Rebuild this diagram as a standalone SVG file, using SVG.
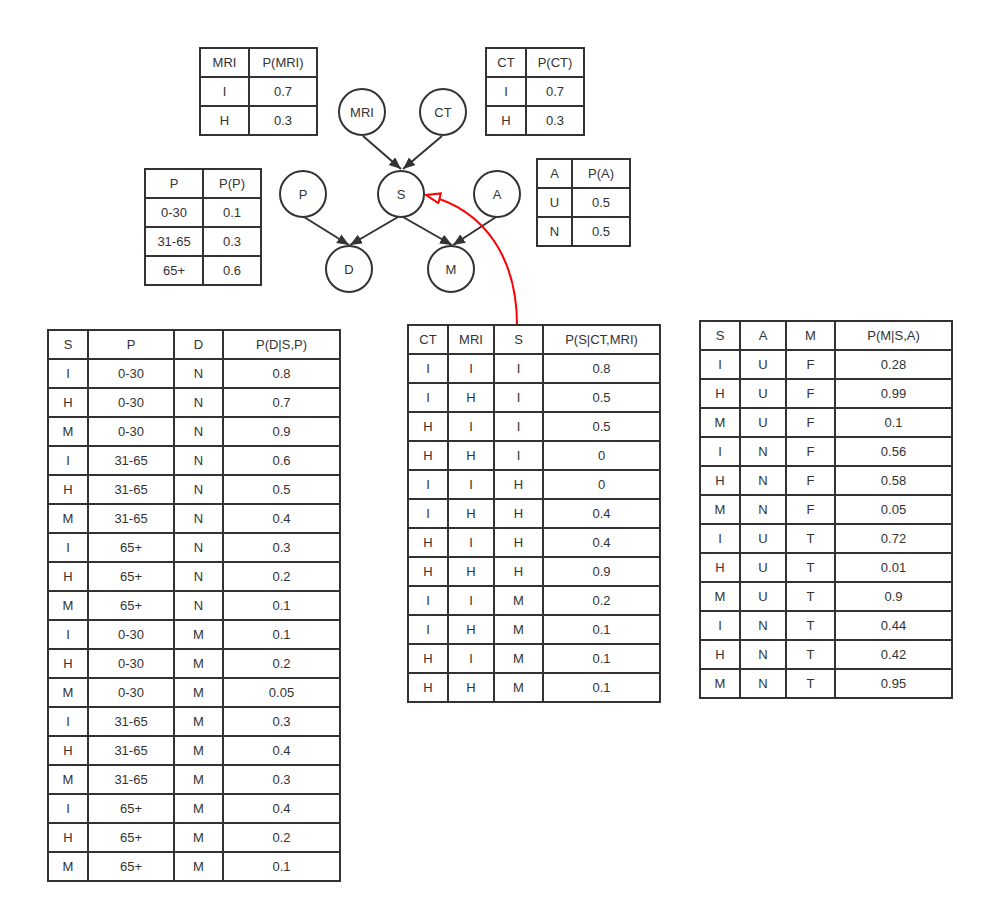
<svg xmlns="http://www.w3.org/2000/svg" width="984" height="913" viewBox="0 0 984 913">
<defs>
<style>
text{font-family:"Liberation Sans",Arial,sans-serif;font-size:13px;fill:#333;text-anchor:middle}
.t rect,.t line{stroke:#333;stroke-width:2;fill:none}
.t rect{fill:#fff}
.n circle{fill:#fff;stroke:#333;stroke-width:2}
.e{stroke:#333;stroke-width:2;fill:none}
</style>
<marker id="ah" markerUnits="userSpaceOnUse" markerWidth="14" markerHeight="12" refX="12" refY="5" orient="auto"><path d="M0,0 L12,5 L0,10 z" fill="#333"/></marker>
<marker id="rh" markerUnits="userSpaceOnUse" markerWidth="18" markerHeight="14" refX="15" refY="6" orient="auto"><path d="M1,1 L15,6 L1,11 z" fill="#fff" stroke="#f00" stroke-width="2"/></marker>
</defs>
<rect width="984" height="913" fill="#fff"/>

<g id="connectors">
<path class="e" d="M363,136 L401,169" marker-end="url(#ah)"/>
<path class="e" d="M442,136 L403,169" marker-end="url(#ah)"/>
<path class="e" d="M304,217 L349,245" marker-end="url(#ah)"/>
<path class="e" d="M398,217 L350,245" marker-end="url(#ah)"/>
<path class="e" d="M403,217 L452,245" marker-end="url(#ah)"/>
<path class="e" d="M496,217 L453,245" marker-end="url(#ah)"/>
<path d="M517,325 C517,262 488,210 426,195" stroke="#f00" stroke-width="2" fill="none" marker-end="url(#rh)"/>
</g>

<g id="node-MRI" class="n"><circle cx="362" cy="112" r="23"/><text x="362" y="116.5">MRI</text></g>
<g id="node-CT" class="n"><circle cx="443" cy="112" r="23"/><text x="443" y="116.5">CT</text></g>
<g id="node-P" class="n"><circle cx="303" cy="194" r="23"/><text x="303" y="198.5">P</text></g>
<g id="node-S" class="n"><circle cx="401" cy="194" r="23"/><text x="401" y="198.5">S</text></g>
<g id="node-A" class="n"><circle cx="497" cy="194" r="23"/><text x="497" y="198.5">A</text></g>
<g id="node-D" class="n"><circle cx="349" cy="269" r="23"/><text x="349" y="273.5">D</text></g>
<g id="node-M" class="n"><circle cx="451" cy="269" r="23"/><text x="451" y="273.5">M</text></g>

<g id="table-MRI" class="t" transform="translate(200,48)">
<rect width="117" height="87"/>
<line x1="49" y1="0" x2="49" y2="87"/><line x1="0" y1="29" x2="117" y2="29"/><line x1="0" y1="58" x2="117" y2="58"/>
<text x="24.5" y="19">MRI</text><text x="83" y="19">P(MRI)</text>
<text x="24.5" y="48">I</text><text x="83" y="48">0.7</text>
<text x="24.5" y="77">H</text><text x="83" y="77">0.3</text>
</g>

<g id="table-CT" class="t" transform="translate(486,48)">
<rect width="98" height="87"/>
<line x1="40" y1="0" x2="40" y2="87"/><line x1="0" y1="29" x2="98" y2="29"/><line x1="0" y1="58" x2="98" y2="58"/>
<text x="20" y="19">CT</text><text x="69" y="19">P(CT)</text>
<text x="20" y="48">I</text><text x="69" y="48">0.7</text>
<text x="20" y="77">H</text><text x="69" y="77">0.3</text>
</g>

<g id="table-P" class="t" transform="translate(145,169)">
<rect width="116" height="116"/>
<line x1="58" y1="0" x2="58" y2="116"/><line x1="0" y1="29" x2="116" y2="29"/><line x1="0" y1="58" x2="116" y2="58"/><line x1="0" y1="87" x2="116" y2="87"/>
<text x="29" y="19">P</text><text x="87" y="19">P(P)</text>
<text x="29" y="48">0-30</text><text x="87" y="48">0.1</text>
<text x="29" y="77">31-65</text><text x="87" y="77">0.3</text>
<text x="29" y="106">65+</text><text x="87" y="106">0.6</text>
</g>

<g id="table-A" class="t" transform="translate(537,159)">
<rect width="93" height="87"/>
<line x1="35" y1="0" x2="35" y2="87"/><line x1="0" y1="29" x2="93" y2="29"/><line x1="0" y1="58" x2="93" y2="58"/>
<text x="17.5" y="19">A</text><text x="64" y="19">P(A)</text>
<text x="17.5" y="48">U</text><text x="64" y="48">0.5</text>
<text x="17.5" y="77">N</text><text x="64" y="77">0.5</text>
</g>

<g id="table-D" class="t" transform="translate(48,330)">
<rect width="292" height="551"/>
<line x1="40" y1="0" x2="40" y2="551"/><line x1="126" y1="0" x2="126" y2="551"/><line x1="175" y1="0" x2="175" y2="551"/>
<line x1="0" y1="29" x2="292" y2="29"/><line x1="0" y1="58" x2="292" y2="58"/><line x1="0" y1="87" x2="292" y2="87"/><line x1="0" y1="116" x2="292" y2="116"/><line x1="0" y1="145" x2="292" y2="145"/><line x1="0" y1="174" x2="292" y2="174"/><line x1="0" y1="203" x2="292" y2="203"/><line x1="0" y1="232" x2="292" y2="232"/><line x1="0" y1="261" x2="292" y2="261"/><line x1="0" y1="290" x2="292" y2="290"/><line x1="0" y1="319" x2="292" y2="319"/><line x1="0" y1="348" x2="292" y2="348"/><line x1="0" y1="377" x2="292" y2="377"/><line x1="0" y1="406" x2="292" y2="406"/><line x1="0" y1="435" x2="292" y2="435"/><line x1="0" y1="464" x2="292" y2="464"/><line x1="0" y1="493" x2="292" y2="493"/><line x1="0" y1="522" x2="292" y2="522"/>
<text x="20" y="19">S</text><text x="83" y="19">P</text><text x="150.5" y="19">D</text><text x="233.5" y="19">P(D|S,P)</text>
<text x="20" y="48">I</text><text x="83" y="48">0-30</text><text x="150.5" y="48">N</text><text x="233.5" y="48">0.8</text>
<text x="20" y="77">H</text><text x="83" y="77">0-30</text><text x="150.5" y="77">N</text><text x="233.5" y="77">0.7</text>
<text x="20" y="106">M</text><text x="83" y="106">0-30</text><text x="150.5" y="106">N</text><text x="233.5" y="106">0.9</text>
<text x="20" y="135">I</text><text x="83" y="135">31-65</text><text x="150.5" y="135">N</text><text x="233.5" y="135">0.6</text>
<text x="20" y="164">H</text><text x="83" y="164">31-65</text><text x="150.5" y="164">N</text><text x="233.5" y="164">0.5</text>
<text x="20" y="193">M</text><text x="83" y="193">31-65</text><text x="150.5" y="193">N</text><text x="233.5" y="193">0.4</text>
<text x="20" y="222">I</text><text x="83" y="222">65+</text><text x="150.5" y="222">N</text><text x="233.5" y="222">0.3</text>
<text x="20" y="251">H</text><text x="83" y="251">65+</text><text x="150.5" y="251">N</text><text x="233.5" y="251">0.2</text>
<text x="20" y="280">M</text><text x="83" y="280">65+</text><text x="150.5" y="280">N</text><text x="233.5" y="280">0.1</text>
<text x="20" y="309">I</text><text x="83" y="309">0-30</text><text x="150.5" y="309">M</text><text x="233.5" y="309">0.1</text>
<text x="20" y="338">H</text><text x="83" y="338">0-30</text><text x="150.5" y="338">M</text><text x="233.5" y="338">0.2</text>
<text x="20" y="367">M</text><text x="83" y="367">0-30</text><text x="150.5" y="367">M</text><text x="233.5" y="367">0.05</text>
<text x="20" y="396">I</text><text x="83" y="396">31-65</text><text x="150.5" y="396">M</text><text x="233.5" y="396">0.3</text>
<text x="20" y="425">H</text><text x="83" y="425">31-65</text><text x="150.5" y="425">M</text><text x="233.5" y="425">0.4</text>
<text x="20" y="454">M</text><text x="83" y="454">31-65</text><text x="150.5" y="454">M</text><text x="233.5" y="454">0.3</text>
<text x="20" y="483">I</text><text x="83" y="483">65+</text><text x="150.5" y="483">M</text><text x="233.5" y="483">0.4</text>
<text x="20" y="512">H</text><text x="83" y="512">65+</text><text x="150.5" y="512">M</text><text x="233.5" y="512">0.2</text>
<text x="20" y="541">M</text><text x="83" y="541">65+</text><text x="150.5" y="541">M</text><text x="233.5" y="541">0.1</text>
</g>

<g id="table-S" class="t" transform="translate(408,325)">
<rect width="252" height="377"/>
<line x1="40" y1="0" x2="40" y2="377"/><line x1="86" y1="0" x2="86" y2="377"/><line x1="135" y1="0" x2="135" y2="377"/>
<line x1="0" y1="29" x2="252" y2="29"/><line x1="0" y1="58" x2="252" y2="58"/><line x1="0" y1="87" x2="252" y2="87"/><line x1="0" y1="116" x2="252" y2="116"/><line x1="0" y1="145" x2="252" y2="145"/><line x1="0" y1="174" x2="252" y2="174"/><line x1="0" y1="203" x2="252" y2="203"/><line x1="0" y1="232" x2="252" y2="232"/><line x1="0" y1="261" x2="252" y2="261"/><line x1="0" y1="290" x2="252" y2="290"/><line x1="0" y1="319" x2="252" y2="319"/><line x1="0" y1="348" x2="252" y2="348"/>
<text x="20" y="19">CT</text><text x="63" y="19">MRI</text><text x="110.5" y="19">S</text><text x="193.5" y="19">P(S|CT,MRI)</text>
<text x="20" y="48">I</text><text x="63" y="48">I</text><text x="110.5" y="48">I</text><text x="193.5" y="48">0.8</text>
<text x="20" y="77">I</text><text x="63" y="77">H</text><text x="110.5" y="77">I</text><text x="193.5" y="77">0.5</text>
<text x="20" y="106">H</text><text x="63" y="106">I</text><text x="110.5" y="106">I</text><text x="193.5" y="106">0.5</text>
<text x="20" y="135">H</text><text x="63" y="135">H</text><text x="110.5" y="135">I</text><text x="193.5" y="135">0</text>
<text x="20" y="164">I</text><text x="63" y="164">I</text><text x="110.5" y="164">H</text><text x="193.5" y="164">0</text>
<text x="20" y="193">I</text><text x="63" y="193">H</text><text x="110.5" y="193">H</text><text x="193.5" y="193">0.4</text>
<text x="20" y="222">H</text><text x="63" y="222">I</text><text x="110.5" y="222">H</text><text x="193.5" y="222">0.4</text>
<text x="20" y="251">H</text><text x="63" y="251">H</text><text x="110.5" y="251">H</text><text x="193.5" y="251">0.9</text>
<text x="20" y="280">I</text><text x="63" y="280">I</text><text x="110.5" y="280">M</text><text x="193.5" y="280">0.2</text>
<text x="20" y="309">I</text><text x="63" y="309">H</text><text x="110.5" y="309">M</text><text x="193.5" y="309">0.1</text>
<text x="20" y="338">H</text><text x="63" y="338">I</text><text x="110.5" y="338">M</text><text x="193.5" y="338">0.1</text>
<text x="20" y="367">H</text><text x="63" y="367">H</text><text x="110.5" y="367">M</text><text x="193.5" y="367">0.1</text>
</g>

<g id="table-M" class="t" transform="translate(700,321)">
<rect width="252" height="377"/>
<line x1="40" y1="0" x2="40" y2="377"/><line x1="86" y1="0" x2="86" y2="377"/><line x1="135" y1="0" x2="135" y2="377"/>
<line x1="0" y1="29" x2="252" y2="29"/><line x1="0" y1="58" x2="252" y2="58"/><line x1="0" y1="87" x2="252" y2="87"/><line x1="0" y1="116" x2="252" y2="116"/><line x1="0" y1="145" x2="252" y2="145"/><line x1="0" y1="174" x2="252" y2="174"/><line x1="0" y1="203" x2="252" y2="203"/><line x1="0" y1="232" x2="252" y2="232"/><line x1="0" y1="261" x2="252" y2="261"/><line x1="0" y1="290" x2="252" y2="290"/><line x1="0" y1="319" x2="252" y2="319"/><line x1="0" y1="348" x2="252" y2="348"/>
<text x="20" y="19">S</text><text x="63" y="19">A</text><text x="110.5" y="19">M</text><text x="193.5" y="19">P(M|S,A)</text>
<text x="20" y="48">I</text><text x="63" y="48">U</text><text x="110.5" y="48">F</text><text x="193.5" y="48">0.28</text>
<text x="20" y="77">H</text><text x="63" y="77">U</text><text x="110.5" y="77">F</text><text x="193.5" y="77">0.99</text>
<text x="20" y="106">M</text><text x="63" y="106">U</text><text x="110.5" y="106">F</text><text x="193.5" y="106">0.1</text>
<text x="20" y="135">I</text><text x="63" y="135">N</text><text x="110.5" y="135">F</text><text x="193.5" y="135">0.56</text>
<text x="20" y="164">H</text><text x="63" y="164">N</text><text x="110.5" y="164">F</text><text x="193.5" y="164">0.58</text>
<text x="20" y="193">M</text><text x="63" y="193">N</text><text x="110.5" y="193">F</text><text x="193.5" y="193">0.05</text>
<text x="20" y="222">I</text><text x="63" y="222">U</text><text x="110.5" y="222">T</text><text x="193.5" y="222">0.72</text>
<text x="20" y="251">H</text><text x="63" y="251">U</text><text x="110.5" y="251">T</text><text x="193.5" y="251">0.01</text>
<text x="20" y="280">M</text><text x="63" y="280">U</text><text x="110.5" y="280">T</text><text x="193.5" y="280">0.9</text>
<text x="20" y="309">I</text><text x="63" y="309">N</text><text x="110.5" y="309">T</text><text x="193.5" y="309">0.44</text>
<text x="20" y="338">H</text><text x="63" y="338">N</text><text x="110.5" y="338">T</text><text x="193.5" y="338">0.42</text>
<text x="20" y="367">M</text><text x="63" y="367">N</text><text x="110.5" y="367">T</text><text x="193.5" y="367">0.95</text>
</g>
</svg>
